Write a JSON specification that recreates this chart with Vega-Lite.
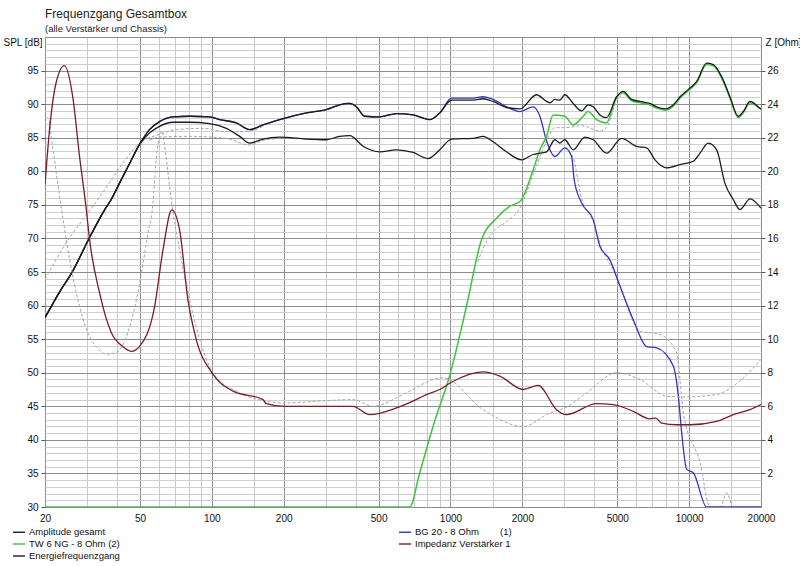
{
  "$schema": "https://vega.github.io/schema/vega-lite/v6.json",
  "width": 716,
  "height": 470,
  "autosize": "none",
  "padding": {"left": 45, "top": 37, "right": 39, "bottom": 59},
  "background": "#ffffff",
  "title": {
    "text": "Frequenzgang Gesamtbox",
    "subtitle": "(alle Verstärker und Chassis)",
    "anchor": "start",
    "frame": "group",
    "offset": -2,
    "font": "Liberation Sans",
    "fontSize": 12,
    "fontWeight": "normal",
    "color": "#222222",
    "subtitleFont": "Liberation Sans",
    "subtitleFontSize": 9.5,
    "subtitleColor": "#222222",
    "subtitlePadding": 3
  },
  "config": {
    "font": "Liberation Sans",
    "view": {"stroke": "#7f7f7f", "strokeWidth": 1},
    "axis": {
      "labelFont": "Liberation Sans",
      "labelFontSize": 10,
      "labelColor": "#111111",
      "titleFont": "Liberation Sans",
      "titleFontSize": 10,
      "titleFontWeight": "normal",
      "titleColor": "#111111",
      "domain": false,
      "tickColor": "#555555"
    }
  },
  "data": {
    "values": [
      {"s": "Amplitude gesamt", "f": 20, "v": 58.2},
      {"s": "Amplitude gesamt", "f": 22.9, "v": 61.9},
      {"s": "Amplitude gesamt", "f": 26.1, "v": 65.1},
      {"s": "Amplitude gesamt", "f": 30.7, "v": 70.1},
      {"s": "Amplitude gesamt", "f": 35.6, "v": 74.3},
      {"s": "Amplitude gesamt", "f": 37.9, "v": 75.8},
      {"s": "Amplitude gesamt", "f": 41, "v": 78.2},
      {"s": "Amplitude gesamt", "f": 45, "v": 81.0},
      {"s": "Amplitude gesamt", "f": 49.8, "v": 84.0},
      {"s": "Amplitude gesamt", "f": 54.8, "v": 86.2},
      {"s": "Amplitude gesamt", "f": 60.4, "v": 87.4},
      {"s": "Amplitude gesamt", "f": 68.7, "v": 88.1},
      {"s": "Amplitude gesamt", "f": 80.7, "v": 88.2},
      {"s": "Amplitude gesamt", "f": 97.9, "v": 88.1},
      {"s": "Amplitude gesamt", "f": 107.8, "v": 87.7},
      {"s": "Amplitude gesamt", "f": 126.7, "v": 87.2},
      {"s": "Amplitude gesamt", "f": 144, "v": 86.2},
      {"s": "Amplitude gesamt", "f": 163.8, "v": 86.9},
      {"s": "Amplitude gesamt", "f": 192.4, "v": 87.7},
      {"s": "Amplitude gesamt", "f": 249, "v": 88.7},
      {"s": "Amplitude gesamt", "f": 302, "v": 89.2},
      {"s": "Amplitude gesamt", "f": 343, "v": 89.9},
      {"s": "Amplitude gesamt", "f": 378, "v": 90.1},
      {"s": "Amplitude gesamt", "f": 403, "v": 89.6},
      {"s": "Amplitude gesamt", "f": 437, "v": 88.2},
      {"s": "Amplitude gesamt", "f": 505, "v": 88.1},
      {"s": "Amplitude gesamt", "f": 594, "v": 88.6},
      {"s": "Amplitude gesamt", "f": 697, "v": 88.4},
      {"s": "Amplitude gesamt", "f": 819, "v": 87.7},
      {"s": "Amplitude gesamt", "f": 902, "v": 88.7},
      {"s": "Amplitude gesamt", "f": 1010, "v": 90.6},
      {"s": "Amplitude gesamt", "f": 1244, "v": 90.6},
      {"s": "Amplitude gesamt", "f": 1370, "v": 90.8},
      {"s": "Amplitude gesamt", "f": 1509, "v": 90.4},
      {"s": "Amplitude gesamt", "f": 1717, "v": 89.5},
      {"s": "Amplitude gesamt", "f": 1953, "v": 89.3},
      {"s": "Amplitude gesamt", "f": 2294, "v": 91.4},
      {"s": "Amplitude gesamt", "f": 2527, "v": 90.4},
      {"s": "Amplitude gesamt", "f": 2609, "v": 90.2},
      {"s": "Amplitude gesamt", "f": 2738, "v": 90.7},
      {"s": "Amplitude gesamt", "f": 2872, "v": 90.6},
      {"s": "Amplitude gesamt", "f": 3014, "v": 91.4},
      {"s": "Amplitude gesamt", "f": 3266, "v": 90.1},
      {"s": "Amplitude gesamt", "f": 3541, "v": 89.0},
      {"s": "Amplitude gesamt", "f": 3775, "v": 89.9},
      {"s": "Amplitude gesamt", "f": 3963, "v": 89.6},
      {"s": "Amplitude gesamt", "f": 4228, "v": 88.4},
      {"s": "Amplitude gesamt", "f": 4508, "v": 88.0},
      {"s": "Amplitude gesamt", "f": 4967, "v": 91.1},
      {"s": "Amplitude gesamt", "f": 5294, "v": 91.9},
      {"s": "Amplitude gesamt", "f": 5741, "v": 90.7},
      {"s": "Amplitude gesamt", "f": 6221, "v": 90.4},
      {"s": "Amplitude gesamt", "f": 6851, "v": 90.1},
      {"s": "Amplitude gesamt", "f": 7309, "v": 89.6},
      {"s": "Amplitude gesamt", "f": 7918, "v": 89.3},
      {"s": "Amplitude gesamt", "f": 8584, "v": 89.9},
      {"s": "Amplitude gesamt", "f": 9158, "v": 91.1},
      {"s": "Amplitude gesamt", "f": 9920, "v": 92.2},
      {"s": "Amplitude gesamt", "f": 10760, "v": 93.4},
      {"s": "Amplitude gesamt", "f": 11837, "v": 96.1},
      {"s": "Amplitude gesamt", "f": 12617, "v": 95.9},
      {"s": "Amplitude gesamt", "f": 13681, "v": 94.1},
      {"s": "Amplitude gesamt", "f": 14824, "v": 91.1},
      {"s": "Amplitude gesamt", "f": 16060, "v": 88.2},
      {"s": "Amplitude gesamt", "f": 16856, "v": 88.9},
      {"s": "Amplitude gesamt", "f": 17991, "v": 90.4},
      {"s": "Amplitude gesamt", "f": 19808, "v": 89.4},
      {"s": "Amplitude gesamt", "f": 20000, "v": 89.3},

      {"s": "BG 20 - 8 Ohm (1)", "f": 20, "v": 58.2},
      {"s": "BG 20 - 8 Ohm (1)", "f": 22.9, "v": 61.9},
      {"s": "BG 20 - 8 Ohm (1)", "f": 26.1, "v": 65.1},
      {"s": "BG 20 - 8 Ohm (1)", "f": 30.7, "v": 70.1},
      {"s": "BG 20 - 8 Ohm (1)", "f": 35.6, "v": 74.3},
      {"s": "BG 20 - 8 Ohm (1)", "f": 37.9, "v": 75.8},
      {"s": "BG 20 - 8 Ohm (1)", "f": 41, "v": 78.2},
      {"s": "BG 20 - 8 Ohm (1)", "f": 45, "v": 81.0},
      {"s": "BG 20 - 8 Ohm (1)", "f": 49.8, "v": 84.0},
      {"s": "BG 20 - 8 Ohm (1)", "f": 54.8, "v": 86.2},
      {"s": "BG 20 - 8 Ohm (1)", "f": 60.4, "v": 87.4},
      {"s": "BG 20 - 8 Ohm (1)", "f": 68.7, "v": 88.1},
      {"s": "BG 20 - 8 Ohm (1)", "f": 80.7, "v": 88.2},
      {"s": "BG 20 - 8 Ohm (1)", "f": 97.9, "v": 88.1},
      {"s": "BG 20 - 8 Ohm (1)", "f": 107.8, "v": 87.7},
      {"s": "BG 20 - 8 Ohm (1)", "f": 126.7, "v": 87.2},
      {"s": "BG 20 - 8 Ohm (1)", "f": 144, "v": 86.2},
      {"s": "BG 20 - 8 Ohm (1)", "f": 163.8, "v": 86.9},
      {"s": "BG 20 - 8 Ohm (1)", "f": 192.4, "v": 87.7},
      {"s": "BG 20 - 8 Ohm (1)", "f": 249, "v": 88.7},
      {"s": "BG 20 - 8 Ohm (1)", "f": 302, "v": 89.2},
      {"s": "BG 20 - 8 Ohm (1)", "f": 343, "v": 89.9},
      {"s": "BG 20 - 8 Ohm (1)", "f": 378, "v": 90.1},
      {"s": "BG 20 - 8 Ohm (1)", "f": 403, "v": 89.6},
      {"s": "BG 20 - 8 Ohm (1)", "f": 437, "v": 88.2},
      {"s": "BG 20 - 8 Ohm (1)", "f": 505, "v": 88.1},
      {"s": "BG 20 - 8 Ohm (1)", "f": 594, "v": 88.6},
      {"s": "BG 20 - 8 Ohm (1)", "f": 697, "v": 88.4},
      {"s": "BG 20 - 8 Ohm (1)", "f": 819, "v": 87.7},
      {"s": "BG 20 - 8 Ohm (1)", "f": 902, "v": 88.7},
      {"s": "BG 20 - 8 Ohm (1)", "f": 1010, "v": 90.9},
      {"s": "BG 20 - 8 Ohm (1)", "f": 1244, "v": 90.9},
      {"s": "BG 20 - 8 Ohm (1)", "f": 1370, "v": 91.1},
      {"s": "BG 20 - 8 Ohm (1)", "f": 1509, "v": 90.7},
      {"s": "BG 20 - 8 Ohm (1)", "f": 1717, "v": 89.6},
      {"s": "BG 20 - 8 Ohm (1)", "f": 1953, "v": 88.9},
      {"s": "BG 20 - 8 Ohm (1)", "f": 2220, "v": 89.6},
      {"s": "BG 20 - 8 Ohm (1)", "f": 2369, "v": 88.2},
      {"s": "BG 20 - 8 Ohm (1)", "f": 2527, "v": 84.5},
      {"s": "BG 20 - 8 Ohm (1)", "f": 2738, "v": 82.2},
      {"s": "BG 20 - 8 Ohm (1)", "f": 3014, "v": 83.5},
      {"s": "BG 20 - 8 Ohm (1)", "f": 3216, "v": 82.2},
      {"s": "BG 20 - 8 Ohm (1)", "f": 3300, "v": 78.7},
      {"s": "BG 20 - 8 Ohm (1)", "f": 3541, "v": 75.3},
      {"s": "BG 20 - 8 Ohm (1)", "f": 3963, "v": 72.8},
      {"s": "BG 20 - 8 Ohm (1)", "f": 4228, "v": 68.8},
      {"s": "BG 20 - 8 Ohm (1)", "f": 4655, "v": 66.8},
      {"s": "BG 20 - 8 Ohm (1)", "f": 5128, "v": 62.9},
      {"s": "BG 20 - 8 Ohm (1)", "f": 5830, "v": 57.9},
      {"s": "BG 20 - 8 Ohm (1)", "f": 6636, "v": 53.9},
      {"s": "BG 20 - 8 Ohm (1)", "f": 7309, "v": 53.7},
      {"s": "BG 20 - 8 Ohm (1)", "f": 8584, "v": 51.0},
      {"s": "BG 20 - 8 Ohm (1)", "f": 9009, "v": 46.5},
      {"s": "BG 20 - 8 Ohm (1)", "f": 9309, "v": 41.0},
      {"s": "BG 20 - 8 Ohm (1)", "f": 9768, "v": 35.6},
      {"s": "BG 20 - 8 Ohm (1)", "f": 10412, "v": 35.1},
      {"s": "BG 20 - 8 Ohm (1)", "f": 11837, "v": 30},
      {"s": "BG 20 - 8 Ohm (1)", "f": 20000, "v": 30},

      {"s": "TW 6 NG - 8 Ohm (2)", "f": 20, "v": 30},
      {"s": "TW 6 NG - 8 Ohm (2)", "f": 675, "v": 30},
      {"s": "TW 6 NG - 8 Ohm (2)", "f": 743, "v": 35.1},
      {"s": "TW 6 NG - 8 Ohm (2)", "f": 845, "v": 42.0},
      {"s": "TW 6 NG - 8 Ohm (2)", "f": 1000, "v": 50.0},
      {"s": "TW 6 NG - 8 Ohm (2)", "f": 1167, "v": 59.9},
      {"s": "TW 6 NG - 8 Ohm (2)", "f": 1349, "v": 69.8},
      {"s": "TW 6 NG - 8 Ohm (2)", "f": 1559, "v": 73.0},
      {"s": "TW 6 NG - 8 Ohm (2)", "f": 1773, "v": 74.8},
      {"s": "TW 6 NG - 8 Ohm (2)", "f": 1955, "v": 75.5},
      {"s": "TW 6 NG - 8 Ohm (2)", "f": 2220, "v": 80.2},
      {"s": "TW 6 NG - 8 Ohm (2)", "f": 2369, "v": 83.2},
      {"s": "TW 6 NG - 8 Ohm (2)", "f": 2527, "v": 85.2},
      {"s": "TW 6 NG - 8 Ohm (2)", "f": 2693, "v": 88.4},
      {"s": "TW 6 NG - 8 Ohm (2)", "f": 3010, "v": 88.2},
      {"s": "TW 6 NG - 8 Ohm (2)", "f": 3270, "v": 86.9},
      {"s": "TW 6 NG - 8 Ohm (2)", "f": 3597, "v": 88.2},
      {"s": "TW 6 NG - 8 Ohm (2)", "f": 3770, "v": 88.9},
      {"s": "TW 6 NG - 8 Ohm (2)", "f": 4090, "v": 87.7},
      {"s": "TW 6 NG - 8 Ohm (2)", "f": 4500, "v": 87.2},
      {"s": "TW 6 NG - 8 Ohm (2)", "f": 4950, "v": 90.9},
      {"s": "TW 6 NG - 8 Ohm (2)", "f": 5280, "v": 91.7},
      {"s": "TW 6 NG - 8 Ohm (2)", "f": 5741, "v": 90.5},
      {"s": "TW 6 NG - 8 Ohm (2)", "f": 6221, "v": 90.2},
      {"s": "TW 6 NG - 8 Ohm (2)", "f": 6851, "v": 89.9},
      {"s": "TW 6 NG - 8 Ohm (2)", "f": 7309, "v": 89.4},
      {"s": "TW 6 NG - 8 Ohm (2)", "f": 7918, "v": 89.1},
      {"s": "TW 6 NG - 8 Ohm (2)", "f": 8584, "v": 89.7},
      {"s": "TW 6 NG - 8 Ohm (2)", "f": 9158, "v": 90.9},
      {"s": "TW 6 NG - 8 Ohm (2)", "f": 9920, "v": 92.0},
      {"s": "TW 6 NG - 8 Ohm (2)", "f": 10760, "v": 93.2},
      {"s": "TW 6 NG - 8 Ohm (2)", "f": 11837, "v": 95.9},
      {"s": "TW 6 NG - 8 Ohm (2)", "f": 12617, "v": 95.7},
      {"s": "TW 6 NG - 8 Ohm (2)", "f": 13681, "v": 93.9},
      {"s": "TW 6 NG - 8 Ohm (2)", "f": 14824, "v": 90.9},
      {"s": "TW 6 NG - 8 Ohm (2)", "f": 16060, "v": 88.0},
      {"s": "TW 6 NG - 8 Ohm (2)", "f": 16856, "v": 88.7},
      {"s": "TW 6 NG - 8 Ohm (2)", "f": 17991, "v": 90.2},
      {"s": "TW 6 NG - 8 Ohm (2)", "f": 20000, "v": 89.2},

      {"s": "Energiefrequenzgang", "f": 20, "v": 58.2},
      {"s": "Energiefrequenzgang", "f": 22.9, "v": 61.9},
      {"s": "Energiefrequenzgang", "f": 26.1, "v": 65.1},
      {"s": "Energiefrequenzgang", "f": 30.7, "v": 70.1},
      {"s": "Energiefrequenzgang", "f": 35.6, "v": 74.3},
      {"s": "Energiefrequenzgang", "f": 37.9, "v": 75.8},
      {"s": "Energiefrequenzgang", "f": 41, "v": 78.2},
      {"s": "Energiefrequenzgang", "f": 45, "v": 81.0},
      {"s": "Energiefrequenzgang", "f": 49.8, "v": 84.0},
      {"s": "Energiefrequenzgang", "f": 54.8, "v": 85.7},
      {"s": "Energiefrequenzgang", "f": 60.4, "v": 86.7},
      {"s": "Energiefrequenzgang", "f": 68.7, "v": 87.3},
      {"s": "Energiefrequenzgang", "f": 80.7, "v": 87.3},
      {"s": "Energiefrequenzgang", "f": 97.9, "v": 87.1},
      {"s": "Energiefrequenzgang", "f": 115, "v": 86.4},
      {"s": "Energiefrequenzgang", "f": 130.8, "v": 85.2},
      {"s": "Energiefrequenzgang", "f": 144, "v": 84.2},
      {"s": "Energiefrequenzgang", "f": 163.8, "v": 84.8},
      {"s": "Energiefrequenzgang", "f": 192.4, "v": 85.1},
      {"s": "Energiefrequenzgang", "f": 249, "v": 84.8},
      {"s": "Energiefrequenzgang", "f": 302, "v": 84.7},
      {"s": "Energiefrequenzgang", "f": 343, "v": 85.2},
      {"s": "Energiefrequenzgang", "f": 378, "v": 85.3},
      {"s": "Energiefrequenzgang", "f": 432, "v": 83.7},
      {"s": "Energiefrequenzgang", "f": 505, "v": 82.9},
      {"s": "Energiefrequenzgang", "f": 594, "v": 83.2},
      {"s": "Energiefrequenzgang", "f": 697, "v": 82.8},
      {"s": "Energiefrequenzgang", "f": 805, "v": 81.9},
      {"s": "Energiefrequenzgang", "f": 902, "v": 83.2},
      {"s": "Energiefrequenzgang", "f": 1010, "v": 84.8},
      {"s": "Energiefrequenzgang", "f": 1244, "v": 84.9},
      {"s": "Energiefrequenzgang", "f": 1370, "v": 85.2},
      {"s": "Energiefrequenzgang", "f": 1509, "v": 84.4},
      {"s": "Energiefrequenzgang", "f": 1717, "v": 82.9},
      {"s": "Energiefrequenzgang", "f": 1985, "v": 81.7},
      {"s": "Energiefrequenzgang", "f": 2220, "v": 82.5},
      {"s": "Energiefrequenzgang", "f": 2369, "v": 82.7},
      {"s": "Energiefrequenzgang", "f": 2527, "v": 82.9},
      {"s": "Energiefrequenzgang", "f": 2738, "v": 84.7},
      {"s": "Energiefrequenzgang", "f": 2872, "v": 84.2},
      {"s": "Energiefrequenzgang", "f": 3014, "v": 84.7},
      {"s": "Energiefrequenzgang", "f": 3266, "v": 83.2},
      {"s": "Energiefrequenzgang", "f": 3656, "v": 85.1},
      {"s": "Energiefrequenzgang", "f": 3963, "v": 84.7},
      {"s": "Energiefrequenzgang", "f": 4508, "v": 82.7},
      {"s": "Energiefrequenzgang", "f": 5213, "v": 84.9},
      {"s": "Energiefrequenzgang", "f": 6024, "v": 83.7},
      {"s": "Energiefrequenzgang", "f": 6636, "v": 83.5},
      {"s": "Energiefrequenzgang", "f": 7190, "v": 81.7},
      {"s": "Energiefrequenzgang", "f": 8049, "v": 80.5},
      {"s": "Energiefrequenzgang", "f": 9158, "v": 81.0},
      {"s": "Energiefrequenzgang", "f": 10412, "v": 81.5},
      {"s": "Energiefrequenzgang", "f": 11108, "v": 82.7},
      {"s": "Energiefrequenzgang", "f": 12021, "v": 84.2},
      {"s": "Energiefrequenzgang", "f": 13038, "v": 83.2},
      {"s": "Energiefrequenzgang", "f": 14126, "v": 78.2},
      {"s": "Energiefrequenzgang", "f": 15306, "v": 75.8},
      {"s": "Energiefrequenzgang", "f": 16325, "v": 74.3},
      {"s": "Energiefrequenzgang", "f": 17991, "v": 75.9},
      {"s": "Energiefrequenzgang", "f": 20000, "v": 74.5},

      {"s": "Impedanz Verstärker 1", "f": 20, "v": 19.2},
      {"s": "Impedanz Verstärker 1", "f": 20.9, "v": 22.5},
      {"s": "Impedanz Verstärker 1", "f": 22.2, "v": 25.2},
      {"s": "Impedanz Verstärker 1", "f": 24.1, "v": 26.3},
      {"s": "Impedanz Verstärker 1", "f": 26.1, "v": 24.5},
      {"s": "Impedanz Verstärker 1", "f": 27.9, "v": 20.9},
      {"s": "Impedanz Verstärker 1", "f": 29.8, "v": 17.7},
      {"s": "Impedanz Verstärker 1", "f": 30.7, "v": 16.0},
      {"s": "Impedanz Verstärker 1", "f": 33.8, "v": 12.8},
      {"s": "Impedanz Verstärker 1", "f": 37.9, "v": 10.4},
      {"s": "Impedanz Verstärker 1", "f": 42, "v": 9.6},
      {"s": "Impedanz Verstärker 1", "f": 46, "v": 9.27},
      {"s": "Impedanz Verstärker 1", "f": 49.8, "v": 9.57},
      {"s": "Impedanz Verstärker 1", "f": 57.6, "v": 11.95},
      {"s": "Impedanz Verstärker 1", "f": 62.4, "v": 15.3},
      {"s": "Impedanz Verstärker 1", "f": 68, "v": 17.7},
      {"s": "Impedanz Verstärker 1", "f": 73.3, "v": 16.5},
      {"s": "Impedanz Verstärker 1", "f": 79.4, "v": 12.35},
      {"s": "Impedanz Verstärker 1", "f": 86.1, "v": 9.97},
      {"s": "Impedanz Verstärker 1", "f": 100, "v": 8.0},
      {"s": "Impedanz Verstärker 1", "f": 122.6, "v": 6.9},
      {"s": "Impedanz Verstärker 1", "f": 163.8, "v": 6.4},
      {"s": "Impedanz Verstärker 1", "f": 169, "v": 6.16},
      {"s": "Impedanz Verstärker 1", "f": 201, "v": 6.0},
      {"s": "Impedanz Verstärker 1", "f": 274, "v": 6.0},
      {"s": "Impedanz Verstärker 1", "f": 390, "v": 6.0},
      {"s": "Impedanz Verstärker 1", "f": 459, "v": 5.5},
      {"s": "Impedanz Verstärker 1", "f": 594, "v": 5.9},
      {"s": "Impedanz Verstärker 1", "f": 743, "v": 6.5},
      {"s": "Impedanz Verstärker 1", "f": 793, "v": 6.7},
      {"s": "Impedanz Verstärker 1", "f": 902, "v": 7.0},
      {"s": "Impedanz Verstärker 1", "f": 1000, "v": 7.4},
      {"s": "Impedanz Verstärker 1", "f": 1369, "v": 8.05},
      {"s": "Impedanz Verstärker 1", "f": 1610, "v": 7.8},
      {"s": "Impedanz Verstärker 1", "f": 2015, "v": 7.0},
      {"s": "Impedanz Verstärker 1", "f": 2330, "v": 7.25},
      {"s": "Impedanz Verstärker 1", "f": 2782, "v": 5.8},
      {"s": "Impedanz Verstärker 1", "f": 3060, "v": 5.5},
      {"s": "Impedanz Verstärker 1", "f": 4094, "v": 6.16},
      {"s": "Impedanz Verstärker 1", "f": 4804, "v": 6.1},
      {"s": "Impedanz Verstärker 1", "f": 5829, "v": 5.7},
      {"s": "Impedanz Verstärker 1", "f": 6846, "v": 5.25},
      {"s": "Impedanz Verstärker 1", "f": 7250, "v": 5.3},
      {"s": "Impedanz Verstärker 1", "f": 7666, "v": 5.0},
      {"s": "Impedanz Verstärker 1", "f": 8862, "v": 4.9},
      {"s": "Impedanz Verstärker 1", "f": 10090, "v": 4.9},
      {"s": "Impedanz Verstärker 1", "f": 13040, "v": 5.1},
      {"s": "Impedanz Verstärker 1", "f": 15320, "v": 5.5},
      {"s": "Impedanz Verstärker 1", "f": 18000, "v": 5.8},
      {"s": "Impedanz Verstärker 1", "f": 20000, "v": 6.1},

      {"s": "alt Amplitude", "f": 20, "v": 63.9},
      {"s": "alt Amplitude", "f": 24.5, "v": 69.3},
      {"s": "alt Amplitude", "f": 28.8, "v": 72.8},
      {"s": "alt Amplitude", "f": 33.3, "v": 75.8},
      {"s": "alt Amplitude", "f": 35.5, "v": 77.2},
      {"s": "alt Amplitude", "f": 42.4, "v": 81.2},
      {"s": "alt Amplitude", "f": 49.8, "v": 84.2},
      {"s": "alt Amplitude", "f": 60.4, "v": 85.5},
      {"s": "alt Amplitude", "f": 71, "v": 86.2},
      {"s": "alt Amplitude", "f": 92, "v": 86.4},
      {"s": "alt Amplitude", "f": 115, "v": 85.9},
      {"s": "alt Amplitude", "f": 144, "v": 86.0},
      {"s": "alt Amplitude", "f": 163.8, "v": 86.7},

      {"s": "alt Energie", "f": 54.8, "v": 84.6},
      {"s": "alt Energie", "f": 60.4, "v": 85.1},
      {"s": "alt Energie", "f": 80.7, "v": 85.2},
      {"s": "alt Energie", "f": 115, "v": 84.9},
      {"s": "alt Energie", "f": 144, "v": 83.9},
      {"s": "alt Energie", "f": 163.8, "v": 84.6},
      {"s": "alt Energie", "f": 192.4, "v": 84.9},

      {"s": "alt TW", "f": 1300, "v": 66.5},
      {"s": "alt TW", "f": 1370, "v": 68.5},
      {"s": "alt TW", "f": 1509, "v": 71.0},
      {"s": "alt TW", "f": 1717, "v": 72.5},
      {"s": "alt TW", "f": 1953, "v": 74.5},
      {"s": "alt TW", "f": 2220, "v": 79.5},
      {"s": "alt TW", "f": 2527, "v": 84.5},
      {"s": "alt TW", "f": 2738, "v": 86.5},
      {"s": "alt TW", "f": 3014, "v": 86.5},
      {"s": "alt TW", "f": 3541, "v": 86.8},
      {"s": "alt TW", "f": 4228, "v": 86.0},
      {"s": "alt TW", "f": 4508, "v": 86.5},
      {"s": "alt TW", "f": 4967, "v": 90.5},
      {"s": "alt TW", "f": 5294, "v": 91.5},

      {"s": "alt BG", "f": 3014, "v": 83.5},
      {"s": "alt BG", "f": 3266, "v": 82.0},
      {"s": "alt BG", "f": 3541, "v": 76.0},
      {"s": "alt BG", "f": 3963, "v": 72.5},
      {"s": "alt BG", "f": 4228, "v": 69.3},
      {"s": "alt BG", "f": 4967, "v": 64.3},
      {"s": "alt BG", "f": 6221, "v": 56.2},
      {"s": "alt BG", "f": 7545, "v": 55.7},
      {"s": "alt BG", "f": 8870, "v": 52.9},
      {"s": "alt BG", "f": 9453, "v": 44.0},
      {"s": "alt BG", "f": 11108, "v": 36.6},
      {"s": "alt BG", "f": 12219, "v": 30},
      {"s": "alt BG", "f": 13500, "v": 30},
      {"s": "alt BG", "f": 14359, "v": 32.1},
      {"s": "alt BG", "f": 15306, "v": 30},
      {"s": "alt BG", "f": 20000, "v": 30},

      {"s": "alt Impedanz", "f": 20, "v": 22.9},
      {"s": "alt Impedanz", "f": 20.6, "v": 23.2},
      {"s": "alt Impedanz", "f": 21.5, "v": 21.5},
      {"s": "alt Impedanz", "f": 23.3, "v": 18.0},
      {"s": "alt Impedanz", "f": 26.2, "v": 13.7},
      {"s": "alt Impedanz", "f": 29.8, "v": 10.6},
      {"s": "alt Impedanz", "f": 33, "v": 9.5},
      {"s": "alt Impedanz", "f": 36.1, "v": 9.1},
      {"s": "alt Impedanz", "f": 39.8, "v": 9.2},
      {"s": "alt Impedanz", "f": 44.5, "v": 10.4},
      {"s": "alt Impedanz", "f": 49.8, "v": 13.3},
      {"s": "alt Impedanz", "f": 54, "v": 16.3},
      {"s": "alt Impedanz", "f": 56.6, "v": 18.0},
      {"s": "alt Impedanz", "f": 58.5, "v": 20.7},
      {"s": "alt Impedanz", "f": 61.6, "v": 22.4},
      {"s": "alt Impedanz", "f": 64.5, "v": 20.7},
      {"s": "alt Impedanz", "f": 67.6, "v": 18.3},
      {"s": "alt Impedanz", "f": 73.3, "v": 15.3},
      {"s": "alt Impedanz", "f": 80.7, "v": 12.35},
      {"s": "alt Impedanz", "f": 88.9, "v": 10.0},
      {"s": "alt Impedanz", "f": 101, "v": 8.0},
      {"s": "alt Impedanz", "f": 130.8, "v": 6.8},
      {"s": "alt Impedanz", "f": 169.3, "v": 6.3},
      {"s": "alt Impedanz", "f": 202, "v": 6.2},
      {"s": "alt Impedanz", "f": 274, "v": 6.3},
      {"s": "alt Impedanz", "f": 390, "v": 6.4},
      {"s": "alt Impedanz", "f": 474, "v": 6.0},
      {"s": "alt Impedanz", "f": 613, "v": 6.6},
      {"s": "alt Impedanz", "f": 654, "v": 6.8},
      {"s": "alt Impedanz", "f": 931, "v": 7.7},
      {"s": "alt Impedanz", "f": 1370, "v": 5.8},
      {"s": "alt Impedanz", "f": 2016, "v": 4.8},
      {"s": "alt Impedanz", "f": 2609, "v": 5.6},
      {"s": "alt Impedanz", "f": 3014, "v": 5.9},
      {"s": "alt Impedanz", "f": 3717, "v": 6.8},
      {"s": "alt Impedanz", "f": 4967, "v": 8.0},
      {"s": "alt Impedanz", "f": 6221, "v": 7.6},
      {"s": "alt Impedanz", "f": 8049, "v": 6.6},
      {"s": "alt Impedanz", "f": 9453, "v": 6.56},
      {"s": "alt Impedanz", "f": 13038, "v": 6.7},
      {"s": "alt Impedanz", "f": 15306, "v": 7.2},
      {"s": "alt Impedanz", "f": 20000, "v": 8.8}
    ]
  },
  "encoding": {
    "x": {
      "field": "f",
      "type": "quantitative",
      "scale": {"type": "log", "domain": [20, 20000], "nice": false},
      "axis": {
        "title": null,
        "values": [20, 30, 40, 50, 60, 70, 80, 90, 100, 150, 200, 300, 400, 500, 600, 700, 800, 900, 1000, 1500, 2000, 3000, 4000, 5000, 6000, 7000, 8000, 9000, 10000, 15000, 20000],
        "labelExpr": "indexof([20,50,100,200,500,1000,2000,5000,10000,20000], datum.value) >= 0 ? '' + datum.value : ''",
        "grid": true,
        "gridColor": {"condition": {"test": "indexof([20,50,100,200,500,1000,2000,5000,10000,20000], datum.value) >= 0", "value": "#8c8c8c"}, "value": "#c8c8c8"},
        "gridWidth": 1,
        "ticks": false,
        "labelPadding": 6,
        "labelFlush": false,
        "labelOverlap": false,
        "labelBound": false
      }
    },
    "color": {
      "field": "s",
      "type": "nominal",
      "scale": {
        "domain": ["Amplitude gesamt", "TW 6 NG - 8 Ohm (2)", "Energiefrequenzgang", "BG 20 - 8 Ohm (1)", "Impedanz Verstärker 1"],
        "range": ["#1c1c1c", "#3dc43d", "#1c1c1c", "#3434c4", "#7a1d28"]
      },
      "legend": {
        "title": null,
        "orient": "none",
        "legendX": -33,
        "legendY": 488,
        "columns": 2,
        "columnPadding": 276,
        "rowPadding": -1,
        "symbolType": "stroke",
        "symbolSize": 144,
        "symbolStrokeWidth": 1.4,
        "labelFont": "Liberation Sans",
        "labelFontSize": 9.5,
        "labelColor": "#111111",
        "labelOffset": 3,
        "labelLimit": 300,
        "labelExpr": "datum.label == 'BG 20 - 8 Ohm (1)' ? 'BG 20 - 8 Ohm\u00a0\u00a0\u00a0\u00a0\u00a0\u00a0\u00a0\u00a0(1)' : datum.label"
      }
    }
  },
  "layer": [
    {
      "encoding": {
        "y": {
          "field": "v",
          "type": "quantitative",
          "scale": {"domain": [30, 100], "nice": false, "zero": false},
          "axis": {
            "orient": "left",
            "values": [30,31,32,33,34,35,36,37,38,39,40,41,42,43,44,45,46,47,48,49,50,51,52,53,54,55,56,57,58,59,60,61,62,63,64,65,66,67,68,69,70,71,72,73,74,75,76,77,78,79,80,81,82,83,84,85,86,87,88,89,90,91,92,93,94,95,96,97,98,99,100],
            "labelExpr": "datum.value % 5 == 0 && datum.value < 100 ? '' + datum.value : ''",
            "grid": true,
            "gridColor": {"condition": {"test": "datum.value % 5 == 0", "value": "#8c8c8c"}, "value": "#cfcfcf"},
            "gridWidth": 1,
            "tickSize": 4,
            "tickOpacity": {"condition": {"test": "datum.value % 5 == 0 && datum.value < 100", "value": 1}, "value": 0},
            "labelPadding": 3,
            "labelOverlap": false,
            "labelBound": false,
            "title": "SPL [dB]",
            "titleAngle": 0,
            "titleAlign": "left",
            "titleBaseline": "middle",
            "titleX": -42,
            "titleY": 5
          }
        }
      },
      "layer": [
        {
          "transform": [{"filter": {"field": "s", "oneOf": ["alt Amplitude", "alt Energie", "alt TW", "alt BG"]}}],
          "mark": {"type": "line", "strokeDash": [3, 2], "strokeWidth": 1, "clip": true, "interpolate": "monotone"},
          "encoding": {"color": {"value": "#a6a6a6"}, "detail": {"field": "s", "type": "nominal"}}
        },
        {
          "transform": [{"filter": {"field": "s", "equal": "BG 20 - 8 Ohm (1)"}}],
          "mark": {"type": "line", "strokeWidth": 1.3, "clip": true, "interpolate": "monotone"}
        },
        {
          "transform": [{"filter": {"field": "s", "equal": "TW 6 NG - 8 Ohm (2)"}}],
          "mark": {"type": "line", "strokeWidth": 1.5, "clip": true, "interpolate": "monotone"}
        },
        {
          "transform": [{"filter": {"field": "s", "equal": "Energiefrequenzgang"}}],
          "mark": {"type": "line", "strokeWidth": 1.3, "clip": true, "interpolate": "monotone"}
        },
        {
          "transform": [{"filter": {"field": "s", "equal": "Amplitude gesamt"}}],
          "mark": {"type": "line", "strokeWidth": 1.3, "clip": true, "interpolate": "monotone"}
        }
      ]
    },
    {
      "encoding": {
        "y": {
          "field": "v",
          "type": "quantitative",
          "scale": {"domain": [0, 28], "nice": false, "zero": false},
          "axis": {
            "orient": "right",
            "values": [2,4,6,8,10,12,14,16,18,20,22,24,26],
            "grid": false,
            "tickSize": 4,
            "labelPadding": 2,
            "labelOverlap": false,
            "labelBound": false,
            "title": "Z [Ohm]",
            "titleAngle": 0,
            "titleAlign": "left",
            "titleBaseline": "middle",
            "titleX": 4,
            "titleY": 5
          }
        }
      },
      "layer": [
        {
          "transform": [{"filter": {"field": "s", "equal": "alt Impedanz"}}],
          "mark": {"type": "line", "strokeDash": [3, 2], "strokeWidth": 1, "clip": true, "interpolate": "monotone"},
          "encoding": {"color": {"value": "#a6a6a6"}}
        },
        {
          "transform": [{"filter": {"field": "s", "equal": "Impedanz Verstärker 1"}}],
          "mark": {"type": "line", "strokeWidth": 1.3, "clip": true, "interpolate": "monotone"}
        }
      ]
    }
  ],
  "resolve": {"scale": {"y": "independent"}}
}
